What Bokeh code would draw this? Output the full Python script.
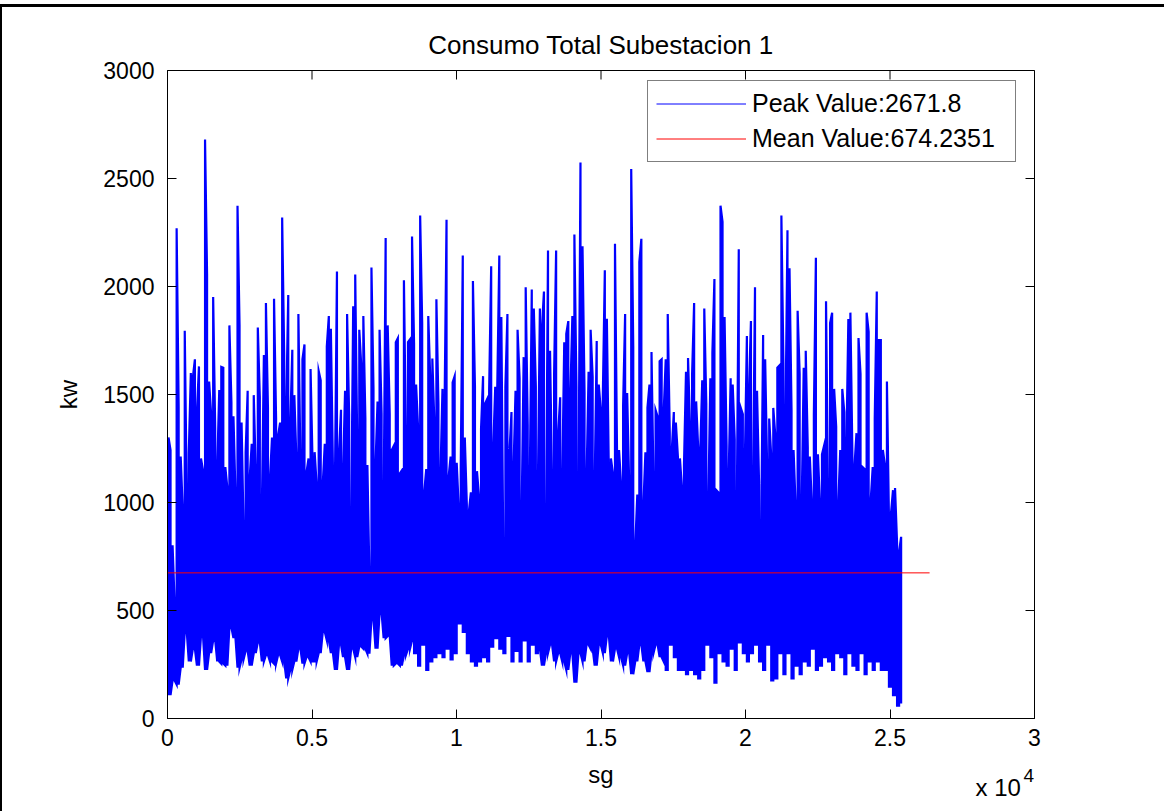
import numpy as np
from bokeh.plotting import figure
from bokeh.models import (Range1d, FixedTicker, Legend, LegendItem, Label)
from bokeh.embed import file_html
from bokeh.resources import INLINE

# ---------------- data ----------------
TITLE = "Consumo Total Subestacion 1"
X_LABEL = "sg"
Y_LABEL = "kw"
x_ticks = [0, 5000, 10000, 15000, 20000, 25000, 30000]
x_tick_labels = ["0", "0.5", "1", "1.5", "2", "2.5", "3"]
y_ticks = [0, 500, 1000, 1500, 2000, 2500, 3000]
peak_value = 2671.8
mean_value = 674.2351
sg_end = 25420                 # last sample of the signal (sg)
mean_line_sg = [0, 26370]      # extent of the mean line (sg)

# upper envelope of the signal (kw), left to right, in six stretches
kw_peak_1 = [1301, 1243, 802, 538, 2270, 1442, 1213, 969, 1795, 1018, 1233, 1599, 1579, 1663,
             1423, 1630, 1204, 1149, 2681, 2055, 1560, 1409, 1951, 1341, 1164, 1521, 1628, 1624,
             1164, 1067, 1820, 1462, 1399, 1037, 2374, 1820, 1370, 871, 1233, 1517, 1115, 1272,
             1497, 1145, 1810, 1487, 973, 1683, 1924, 1438, 1115, 1301, 1943, 1389, 1311, 1370,
             2319, 1683]
kw_peak_2 = [1442, 1961, 1364, 1707, 1497, 1204, 1873, 1180, 1663, 1732, 1141, 1204, 1618, 1174,
             1233, 1082, 1609, 1566, 1086, 1272, 1722, 1863, 1804, 1174, 1086, 2069, 1233, 1429,
             1145, 1517, 1873, 1409, 881, 1908, 2055, 1272, 1800, 1630, 1863, 1389, 1174, 656,
             2088, 1526, 1174, 1468, 1800, 1409, 978, 2225, 1820, 1409, 1243, 1262, 1742, 1761,
             1135, 1149, 2029, 1292, 1742, 1755, 2231]
kw_peak_3 = [1736, 1546, 1341, 2329, 1830, 1047, 1155, 1863, 1566, 1667, 1370, 1941, 1458, 1125,
             1526, 1419, 2309, 1115, 1213, 1556, 1585, 1184, 978, 1164, 2143, 1301, 988, 958,
             1047, 2025, 1536, 1145, 1027, 1341, 1585, 1458, 1478, 1526, 2094, 1252, 1536, 1536,
             2143, 1859, 734, 1536, 1873, 1233, 1419, 1155, 1517, 1800, 1575, 939, 1673, 1996,
             1360, 1086, 1986, 1898, 1536, 1067, 1898]
kw_peak_4 = [1810, 1977, 871, 2167, 1703, 1096, 1595, 2167, 1321, 1487, 1096, 1742, 1781, 1840,
             1497, 1863, 2241, 1536, 988, 2574, 2186, 1507, 1115, 1605, 1800, 1581, 1086, 1748,
             1546, 1429, 1487, 2075, 1851, 1125, 1204, 1135, 2198, 1243, 1243, 1086, 1448, 1873,
             1507, 1086, 2544, 1722, 802, 1037, 2114, 2221, 988, 1233, 1438, 1546, 1697, 1086,
             1429, 1399, 1654, 1663, 1419]
kw_peak_5 = [1663, 1873, 1321, 1243, 1419, 1370, 1213, 1204, 1067, 1174, 1605, 1669, 1350, 1595,
             1924, 1468, 1252, 1233, 1566, 1898, 1458, 998, 1575, 1693, 2035, 1057, 1047, 2374,
             2300, 1859, 1262, 1115, 1575, 1546, 1292, 939, 2172, 1438, 1409, 1194, 1771, 1517,
             1840, 1086, 1996, 1517, 1086, 832, 1775, 1663, 1155, 1389, 1213, 1438, 1311, 1624,
             1634, 2329, 1644, 1370, 2260, 2084]
kw_peak_6 = [1429, 1243, 988, 1888, 1595, 978, 1624, 1703, 1252, 1213, 998, 1409, 2133, 1223,
             998, 1223, 1262, 1932, 1027, 1830, 1879, 1526, 1350, 988, 1243, 1526, 1419, 1243,
             1849, 1879, 1213, 1164, 1321, 1761, 1595, 1164, 1155, 1879, 1790, 1008, 1164, 1389,
             1977, 1752, 1752, 1243, 1174, 1560, 930, 949, 1057, 1067, 812, 773, 841]

# lower envelope (kw), one reading for every two upper-envelope columns
kw_low_1 = [108, 176, 157, 235, 401, 264, 323, 245, 382, 225, 303, 362, 264, 254, 245, 421,
            372, 235, 274, 313, 245, 303, 352, 264, 294, 264, 254, 294, 264]
kw_low_2 = [186, 225, 264, 323, 254, 284, 264, 264, 303, 401, 362, 303, 225, 342, 284, 225,
            323, 284, 333, 323, 300, 460, 323, 489, 372, 382, 245, 254, 245, 294, 323, 362]
kw_low_3 = [303, 245, 342, 225, 264, 284, 303, 284, 323, 274, 303, 440, 401, 303, 264, 245,
            264, 284, 264, 333, 372, 323, 303, 382, 264, 313, 264, 362, 264, 342, 303, 323]
kw_low_4 = [245, 303, 342, 264, 303, 264, 225, 303, 166, 303, 264, 342, 323, 245, 342, 303,
            382, 264, 323, 284, 245, 303, 205, 264, 342, 264, 215, 303, 342, 284, 264]
kw_low_5 = [225, 342, 284, 225, 225, 205, 225, 205, 186, 225, 342, 284, 166, 303, 264, 245,
            323, 225, 352, 303, 264, 303, 342, 264, 225, 342, 176, 186, 303, 205, 303]
kw_low_6 = [186, 245, 205, 264, 245, 323, 225, 245, 284, 264, 225, 303, 284, 205, 303, 245,
            225, 303, 205, 264, 225, 264, 225, 225, 147, 108, 59, 69]

# ---------------- build the signal path ----------------
peaks = [kw_peak_1, kw_peak_2, kw_peak_3, kw_peak_4, kw_peak_5, kw_peak_6]
lows = [kw_low_1, kw_low_2, kw_low_3, kw_low_4, kw_low_5, kw_low_6]
hi = np.concatenate([np.asarray(h, float) for h in peaks])
lo = np.concatenate([np.repeat(np.asarray(l, float), 2)[:len(h)] for h, l in zip(peaks, lows)])
n = len(hi)
sg = (np.arange(n) + 0.5) * sg_end / n
xs = np.repeat(sg, 2)
ys = np.empty(2 * n)
for i in range(n):
    if i % 2 == 0:
        ys[2 * i], ys[2 * i + 1] = lo[i], hi[i]
    else:
        ys[2 * i], ys[2 * i + 1] = hi[i], lo[i]

FONT = "Liberation Sans"

p = figure(frame_width=867, frame_height=648,
           min_border_left=167, min_border_right=130, min_border_top=70, min_border_bottom=93,
           x_range=Range1d(0, 30000), y_range=Range1d(0, 3000),
           output_backend="svg", toolbar_location=None, title=TITLE)
p.background_fill_color = "white"
p.border_fill_color = None          # let the page border (below) show through
p.styles = {"background-color": "white",
            "box-shadow": "inset 0 4px 0 0 white, inset 0 7px 0 0 black, inset 2px 0 0 0 black"}
p.outline_line_color = "black"
p.outline_line_width = 1
p.xgrid.visible = False
p.ygrid.visible = False

p.title.text_font = FONT
p.title.text_font_size = "26px"
p.title.text_font_style = "normal"
p.title.text_color = "black"
p.title.align = "center"
p.title.standoff = 21

signal = p.line(xs, ys, line_color="#0000FF", line_width=2.2, line_join="miter")
mean_r = p.line(mean_line_sg, [mean_value, mean_value], line_color="#FF0000", line_width=1)
# one-point line: draws nothing, gives the legend a thin blue line
proxy = p.line(x=sg[:1], y=hi[:1], line_color="#0000FF", line_width=1)

# inward ticks on the top and right edges of the box (half of each dash is clipped away)
p.scatter(x=x_ticks, y=[y_ticks[-1]] * len(x_ticks), marker="dash", size=18, angle=np.pi / 2,
          line_color="black", line_width=1)
p.scatter(x=[x_ticks[-1]] * len(y_ticks), y=y_ticks, marker="dash", size=18,
          line_color="black", line_width=1)

xax = p.xaxis[0]
xax.ticker = FixedTicker(ticks=x_ticks)
xax.major_label_overrides = {t: l for t, l in zip(x_ticks, x_tick_labels)}
yax = p.yaxis[0]
yax.ticker = FixedTicker(ticks=y_ticks)
xax.axis_label = X_LABEL
yax.axis_label = Y_LABEL
for ax in (xax, yax):
    ax.major_label_text_font = FONT
    ax.major_label_text_font_size = "23px"
    ax.major_label_text_color = "black"
    ax.axis_label_text_font = FONT
    ax.axis_label_text_font_size = "24px"
    ax.axis_label_text_font_style = "normal"
    ax.axis_label_text_color = "black"
    ax.axis_line_color = "black"
    ax.major_tick_line_color = "black"
    ax.major_tick_in = 9
    ax.major_tick_out = 0
    ax.minor_tick_line_color = None
xax.major_label_standoff = 10
xax.axis_label_standoff = 12
yax.major_label_standoff = 13
yax.axis_label_standoff = 18

legend = Legend(items=[LegendItem(label=f"Peak Value:{peak_value}", renderers=[proxy]),
                       LegendItem(label=f"Mean Value:{mean_value}", renderers=[mean_r])],
                location=(480, 556), orientation="vertical",
                padding=8, spacing=6, margin=0,
                glyph_width=90, glyph_height=29, label_height=29, label_width=255,
                label_standoff=6, label_text_font=FONT, label_text_font_size="25px",
                label_text_color="black", border_line_color="black", border_line_width=1,
                background_fill_color="white", background_fill_alpha=1)
p.add_layout(legend)

# axis multiplier "x 10^4" (placed in the bottom panel so that it is not clipped)
p.add_layout(Label(x=27960, y=-320, text="x 10", text_font=FONT, text_font_size="24px",
                   text_color="black", text_baseline="alphabetic"), "below")
p.add_layout(Label(x=29618, y=-264, text="4", text_font=FONT, text_font_size="19px",
                   text_color="black", text_baseline="alphabetic"), "below")

open("out.html", "w").write(file_html(p, INLINE))
